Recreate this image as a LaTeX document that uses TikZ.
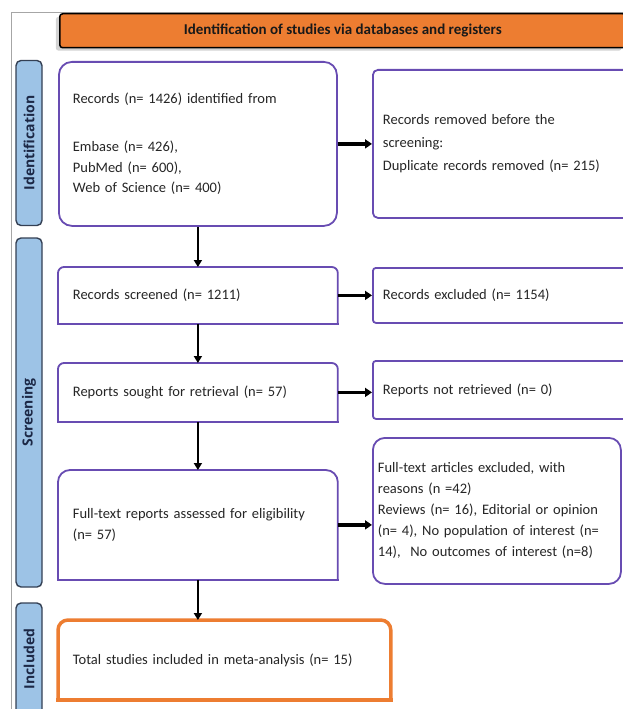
\documentclass[tikz,border=0pt]{standalone}
\usepackage{fontspec}
\setmainfont{Carlito}
\newfontfamily\sidefont{Open Sans}
\usetikzlibrary{positioning,arrows.meta,shadows}

\definecolor{prismaorange}{RGB}{237,125,49}
\definecolor{boxpurple}{RGB}{104,76,178}
\definecolor{sideblue}{RGB}{157,195,230}
\definecolor{sideedge}{RGB}{52,64,84}
\definecolor{sidetext}{RGB}{28,40,70}

\begin{document}
\begin{tikzpicture}[x=1pt,y=-1pt,
    stagebox/.style={draw=boxpurple, line width=1.8pt, fill=white, anchor=north west, align=left,
        inner xsep=14pt, text width=250pt, text=black!85, font=\fontsize{14.5}{20.5}\selectfont},
    openbox/.style={stagebox, draw=none},
    sidebox/.style={rotate=90, draw=sideedge, line width=1.4pt, fill=sideblue, rounded corners=5pt,
        minimum height=26pt, inner sep=0pt, text=sidetext, font=\sidefont\bfseries\fontsize{14}{16}\selectfont},
    downarrow/.style={-{Triangle[length=7pt,width=8pt]}, line width=2pt},
    sidearrow/.style={-{Triangle[length=7pt,width=9pt]}, line width=3.2pt},
]
    \useasboundingbox (0,0) rectangle (622,709);
    %frame and banner
    \draw[gray!70, line width=0.8pt] (11,720) -- (11,12) -- (640,12);
    \node[draw=black, line width=1.5pt, fill=prismaorange, rounded corners=3pt, anchor=north west,
        minimum width=566pt, minimum height=34pt, inner sep=0pt,
        drop shadow={shadow xshift=-4pt, shadow yshift=-3pt, opacity=0.35},
        font=\bfseries\fontsize{15}{17}\selectfont, text=black!90] (banner) at (59,13)
        {Identification of studies via databases and registers};
    %phase labels
    \node[sidebox, minimum width=165pt] (idlabel) at (29,143) {Identification};
    \node[sidebox, minimum width=349pt] (scrlabel) at (29,412.5) {Screening};
    \node[sidebox, minimum width=112pt] (inclabel) at (29,659) {Included};
    %left column
    \node[stagebox, rounded corners=13pt, minimum height=164pt] (idbox) at (58,61)
        {Records (n= 1426) identified from\\[28pt]Embase (n= 426),\\PubMed (n= 600),\\Web of Science (n= 400)};
    \node[openbox, minimum height=55pt] (scrbox) at (58,267) {Records screened (n= 1211)};
    \node[openbox, minimum height=57pt] (soughtbox) at (58,363) {Reports sought for retrieval (n= 57)};
    \node[openbox, minimum height=108pt] (fullbox) at (58,470)
        {Full-text reports assessed for eligibility\\(n= 57)};
    \node[openbox, text width=303pt, minimum height=78pt] (totbox) at (58,620)
        {Total studies included in meta-analysis (n= 15)};
    %right column
    \node[stagebox, rounded corners=5pt, inner xsep=10pt, text width=236pt, minimum height=148pt,
        font=\fontsize{14.5}{23}\selectfont] (rmbox) at (372,69)
        {Records removed before the\\screening:\\Duplicate records removed (n= 215)};
    \node[stagebox, rounded corners=3pt, inner xsep=10pt, text width=236pt, minimum height=55pt] (exbox) at (372,267)
        {Records excluded (n= 1154)};
    \node[stagebox, rounded corners=3pt, inner xsep=10pt, text width=236pt, minimum height=58pt] (notbox) at (372,360)
        {Reports not retrieved (n= 0)};
    \node[stagebox, rounded corners=12pt, inner xsep=5pt, text width=238pt, minimum height=146pt,
        font=\fontsize{14.5}{21}\selectfont] (reasbox) at (372,437)
        {Full-text articles excluded, with\\reasons (n =42)\\Reviews (n= 16), Editorial or opinion\\(n= 4), No population of interest (n=\\14),\ \ No outcomes of interest (n=8)};
    %boxes with round top corners only
    \foreach \n/\r in {scrbox/6pt, soughtbox/6pt, fullbox/12pt}
        {%
            \draw[boxpurple, line width=1.8pt, rounded corners=\r] (\n.south west) -- (\n.north west) -- (\n.north east) -- (\n.south east);
            \draw[boxpurple, line width=1.8pt, line cap=rect] (\n.south west) -- (\n.south east);
        }
    \draw[prismaorange, line width=3.5pt, rounded corners=10pt] (totbox.south west) -- (totbox.north west) -- (totbox.north east) -- (totbox.south east);
    \draw[prismaorange, line width=3.5pt, line cap=rect] (totbox.south west) -- (totbox.south east);
    %arrows
    \draw[downarrow] (idbox.south) -- (scrbox.north);
    \draw[downarrow] (scrbox.south) -- (soughtbox.north);
    \draw[downarrow] (soughtbox.south) -- (fullbox.north);
    \draw[downarrow] (fullbox.south) -- (fullbox.south |- totbox.north);
    \draw[sidearrow] (idbox.east) -- (idbox.east -| rmbox.west);
    \draw[sidearrow] (scrbox.east) -- (scrbox.east -| exbox.west);
    \draw[sidearrow] (soughtbox.east) -- (soughtbox.east -| notbox.west);
    \draw[sidearrow] (fullbox.east) -- (fullbox.east -| reasbox.west);
\end{tikzpicture}
\end{document}
